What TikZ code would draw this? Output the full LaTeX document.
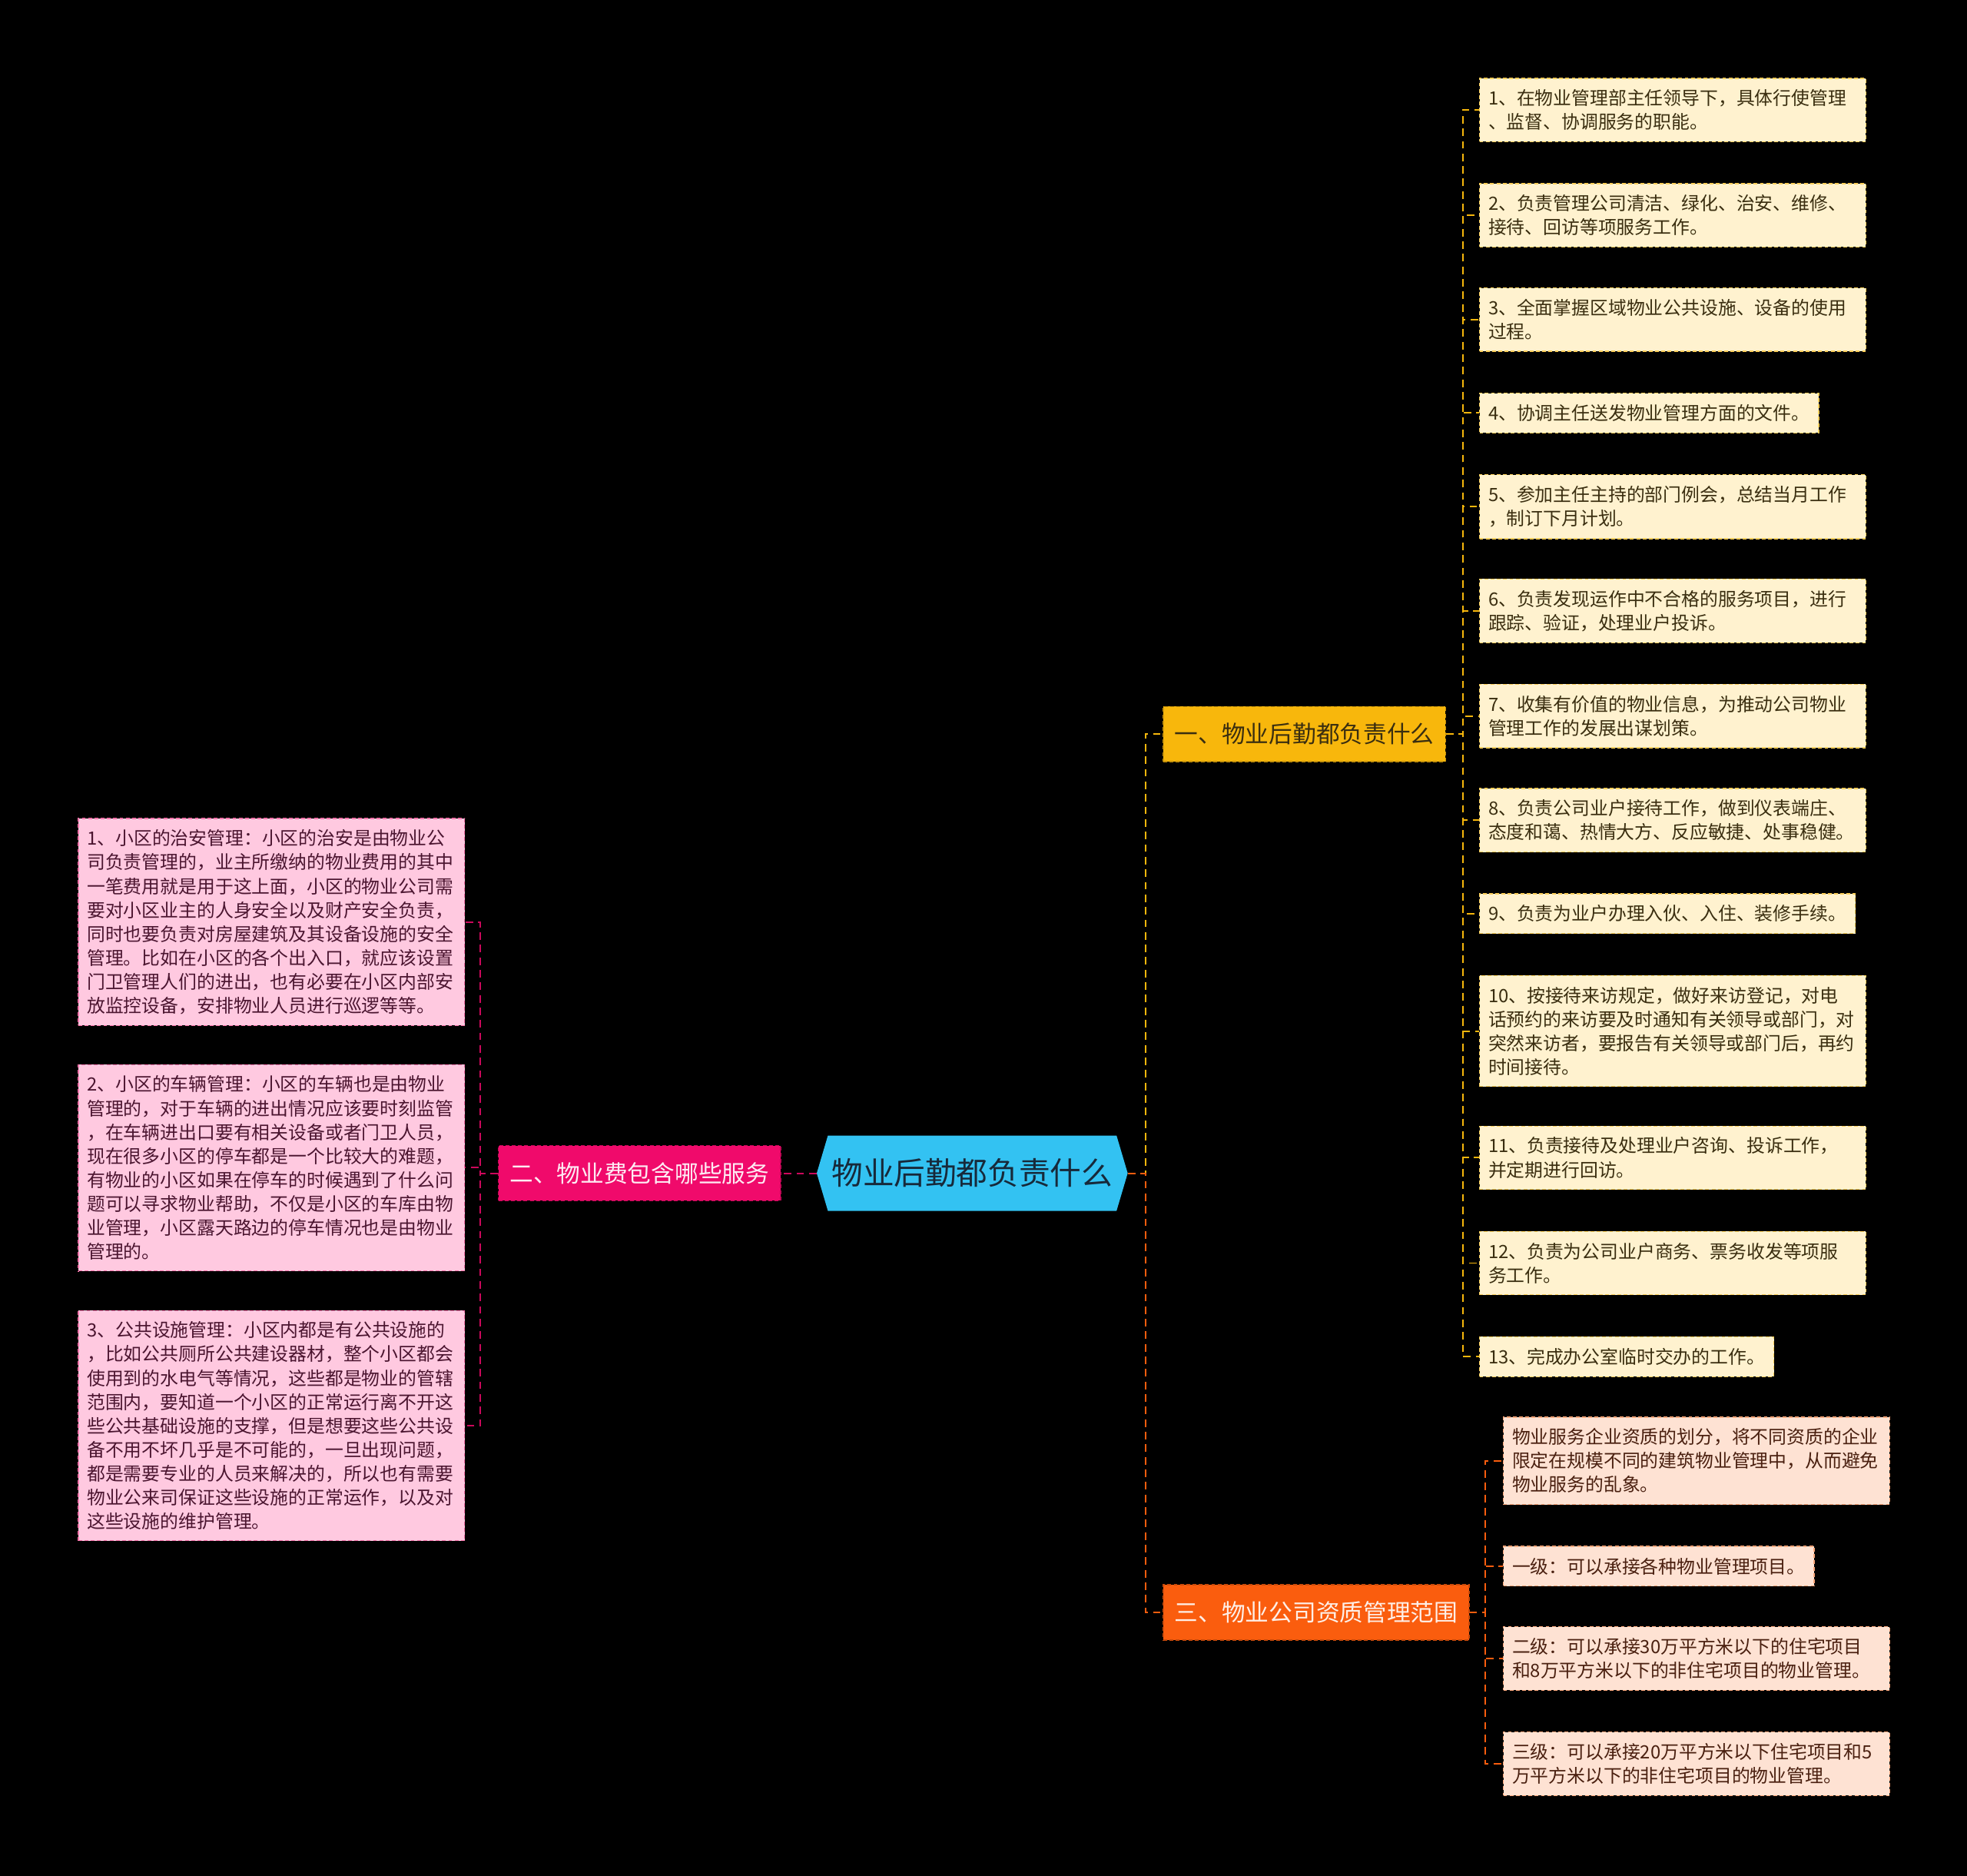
\documentclass[tikz,border=0pt]{standalone}
\usepackage{fontspec}
\newfontfamily\cjk{Noto Sans CJK SC}
\usetikzlibrary{positioning,shapes.symbols}
\definecolor{mapcyan}{HTML}{33C2F2}
\definecolor{mapnavy}{HTML}{17293A}
\definecolor{mapgold}{HTML}{F8B70C}
\definecolor{mappink}{HTML}{F00A6B}
\definecolor{maporange}{HTML}{FA5D0E}
\definecolor{leafgold}{HTML}{FFF2CF}
\definecolor{leafpink}{HTML}{FFC9E0}
\definecolor{leaforange}{HTML}{FEE2D3}
\definecolor{inkgold}{HTML}{3A2E10}
\definecolor{inkpink}{HTML}{4B1530}
\definecolor{inkorange}{HTML}{4A2010}

\begin{document}
\begin{tikzpicture}[x=1pt,y=-1pt,
leaf/.style={draw,dash pattern=on 3pt off 2pt,line width=.8pt,anchor=north west,align=left,
  inner xsep=7pt,inner ysep=9pt,font={\cjk\fontsize{14.6}{19}\selectfont}},
wide/.style={text width=294pt},
goldleaf/.style={leaf,fill=leafgold,draw=mapgold!60!leafgold,text=inkgold},
pinkleaf/.style={leaf,fill=leafpink,draw=mappink!45!leafpink,text=inkpink},
orangeleaf/.style={leaf,fill=leaforange,draw=maporange!45!leaforange,text=inkorange},
branch/.style={draw,dash pattern=on 3pt off 2pt,line width=.8pt,anchor=west,minimum height=44pt,
  inner xsep=9pt,font={\cjk\fontsize{18.8}{22}\selectfont}},
link/.style={dash pattern=on 6pt off 4pt,line width=1.2pt}]
\fill[black] (0,0) rectangle (1568,1495);

% root and main branches
\node[signal,signal to=east and west,signal pointer angle=147,fill=mapcyan,text=mapnavy,
  minimum height=60pt,inner xsep=3pt,font={\cjk\fontsize{24.9}{28}\selectfont}] (root) at (775,935) {物业后勤都负责什么};
\node[branch,fill=mapgold,draw=mapgold!80!black,text=inkgold] (b1) at (927,585) {一、物业后勤都负责什么};
\node[branch,fill=mappink,draw=mappink!80!black,text=white!92!mappink] (b2) at (397,935) {二、物业费包含哪些服务};
\node[branch,fill=maporange,draw=maporange!80!black,text=white!90!maporange] (b3) at (927,1285) {三、物业公司资质管理范围};

% gold leaves
\node[goldleaf,wide] (y1) at (1179,62) {1、在物业管理部主任领导下，具体行使管理\\、监督、协调服务的职能。};
\node[goldleaf,wide] (y2) at (1179,146) {2、负责管理公司清洁、绿化、治安、维修、\\接待、回访等项服务工作。};
\node[goldleaf,wide] (y3) at (1179,229) {3、全面掌握区域物业公共设施、设备的使用\\过程。};
\node[goldleaf] (y4) at (1179,313) {4、协调主任送发物业管理方面的文件。};
\node[goldleaf,wide] (y5) at (1179,378) {5、参加主任主持的部门例会，总结当月工作\\，制订下月计划。};
\node[goldleaf,wide] (y6) at (1179,461) {6、负责发现运作中不合格的服务项目，进行\\跟踪、验证，处理业户投诉。};
\node[goldleaf,wide] (y7) at (1179,545) {7、收集有价值的物业信息，为推动公司物业\\管理工作的发展出谋划策。};
\node[goldleaf,wide] (y8) at (1179,628) {8、负责公司业户接待工作，做到仪表端庄、\\态度和蔼、热情大方、反应敏捷、处事稳健。};
\node[goldleaf] (y9) at (1179,712) {9、负责为业户办理入伙、入住、装修手续。};
\node[goldleaf,wide] (y10) at (1179,777) {10、按接待来访规定，做好来访登记，对电\\话预约的来访要及时通知有关领导或部门，对\\突然来访者，要报告有关领导或部门后，再约\\时间接待。};
\node[goldleaf,wide] (y11) at (1179,897) {11、负责接待及处理业户咨询、投诉工作，\\并定期进行回访。};
\node[goldleaf,wide] (y12) at (1179,981) {12、负责为公司业户商务、票务收发等项服\\务工作。};
\node[goldleaf] (y13) at (1179,1065) {13、完成办公室临时交办的工作。};

% pink leaves
\node[pinkleaf,wide] (p1) at (62,652) {1、小区的治安管理：小区的治安是由物业公\\司负责管理的，业主所缴纳的物业费用的其中\\一笔费用就是用于这上面，小区的物业公司需\\要对小区业主的人身安全以及财产安全负责，\\同时也要负责对房屋建筑及其设备设施的安全\\管理。比如在小区的各个出入口，就应该设置\\门卫管理人们的进出，也有必要在小区内部安\\放监控设备，安排物业人员进行巡逻等等。};
\node[pinkleaf,wide] (p2) at (62,848) {2、小区的车辆管理：小区的车辆也是由物业\\管理的，对于车辆的进出情况应该要时刻监管\\，在车辆进出口要有相关设备或者门卫人员，\\现在很多小区的停车都是一个比较大的难题，\\有物业的小区如果在停车的时候遇到了什么问\\题可以寻求物业帮助，不仅是小区的车库由物\\业管理，小区露天路边的停车情况也是由物业\\管理的。};
\node[pinkleaf,wide] (p3) at (62,1044) {3、公共设施管理：小区内都是有公共设施的\\，比如公共厕所公共建设器材，整个小区都会\\使用到的水电气等情况，这些都是物业的管辖\\范围内，要知道一个小区的正常运行离不开这\\些公共基础设施的支撑，但是想要这些公共设\\备不用不坏几乎是不可能的，一旦出现问题，\\都是需要专业的人员来解决的，所以也有需要\\物业公来司保证这些设施的正常运作，以及对\\这些设施的维护管理。};

% orange leaves
\node[orangeleaf,wide] (o1) at (1198,1129) {物业服务企业资质的划分，将不同资质的企业\\限定在规模不同的建筑物业管理中，从而避免\\物业服务的乱象。};
\node[orangeleaf] (o2) at (1198,1232) {一级：可以承接各种物业管理项目。};
\node[orangeleaf,wide] (o3) at (1198,1296) {二级：可以承接30万平方米以下的住宅项目\\和8万平方米以下的非住宅项目的物业管理。};
\node[orangeleaf,wide] (o4) at (1198,1380) {三级：可以承接20万平方米以下住宅项目和5\\万平方米以下的非住宅项目的物业管理。};

% connectors
\coordinate (rj) at (913,935);
\coordinate (yj) at (1166,585);
\coordinate (pj) at (383,935);
\coordinate (oj) at (1184,1285);
\draw[link,mapgold] (root.east) -- (rj) |- (b1.west);
\draw[link,maporange] (root.east) -- (rj) |- (b3.west);
\draw[link,mappink!85!black] (root.west) -- (b2.east);
\foreach \i in {1,...,13}
  \draw[link,mapgold] (b1.east) -- (yj) |- (y\i.west);
\foreach \i in {1,2,3}
  \draw[link,mappink!85!black] (b2.west) -- (pj) |- (p\i.east);
\foreach \i in {1,...,4}
  \draw[link,maporange] (b3.east) -- (oj) |- (o\i.west);
\end{tikzpicture}
\end{document}
